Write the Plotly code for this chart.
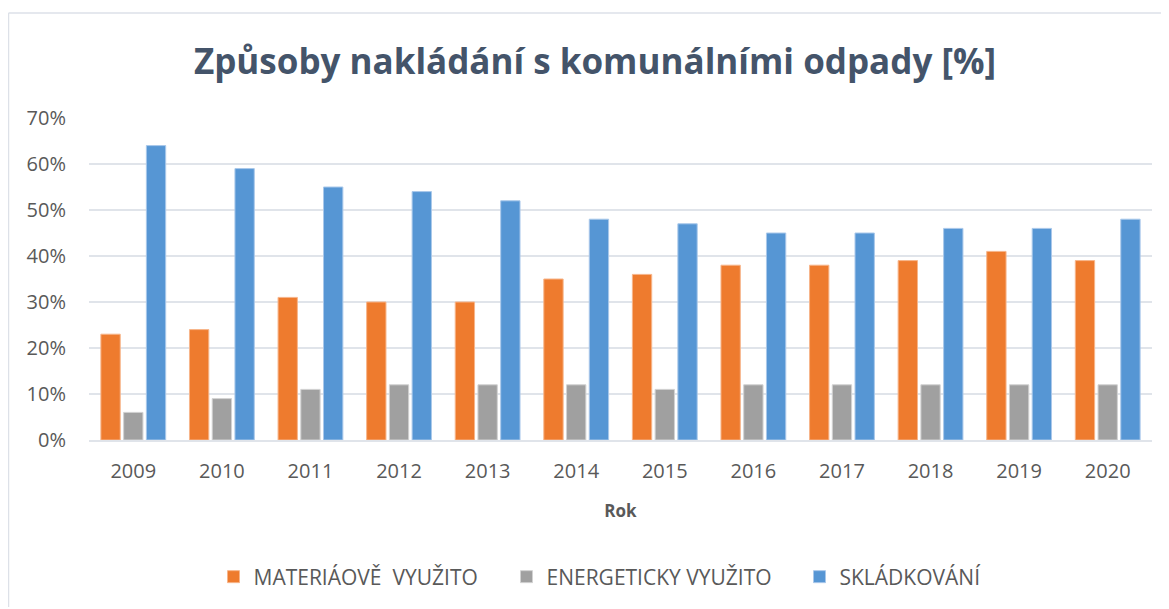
import plotly.graph_objects as go

years = ["2009", "2010", "2011", "2012", "2013", "2014", "2015", "2016", "2017", "2018", "2019", "2020"]
materialove = [23, 24, 31, 30, 30, 35, 36, 38, 38, 39, 41, 39]
energeticky = [6, 9, 11, 12, 12, 12, 11, 12, 12, 12, 12, 12]
skladkovani = [64, 59, 55, 54, 52, 48, 47, 45, 45, 46, 46, 48]
series_names = ["MATERIÁOVĚ&nbsp; VYUŽITO", "ENERGETICKY VYUŽITO", "SKLÁDKOVÁNÍ"]
colors = ["#EE7B2E", "#A0A0A0", "#5696D4"]
edge_colors = ["#F7B58A", "#D2D2D2", "#A9C8EA"]

# page body has an 8px margin, so the figure starts at (8, 8) in the window
W, H = 1161, 601
L, R, T, B = 81, 17, 110, 169
PH = H - T - B
PW = W - L - R

fig = go.Figure()
for name, vals, c, ec in zip(series_names, [materialove, energeticky, skladkovani], colors, edge_colors):
    fig.add_trace(go.Bar(
        x=years, y=[v / 100 for v in vals], name=name,
        marker=dict(color=c, line=dict(color=ec, width=1)),
    ))

font = "'Open Sans', Lato, sans-serif"
fig.update_layout(
    width=W, height=H,
    margin=dict(l=L, r=R, t=T, b=B, autoexpand=False),
    paper_bgcolor="white", plot_bgcolor="white",
    barmode="group", bargap=0.23, bargroupgap=0.15,
    title=dict(text="<b>Způsoby nakládání s komunálními odpady [%]</b>",
               x=587 / W, xanchor="center", y=1 - 54 / H, yanchor="middle",
               font=dict(family=font, size=35, color="#44546A")),
    font=dict(family=font, color="#595959"),
    xaxis=dict(showgrid=False, showline=True, linecolor="#E0E4EA", linewidth=2,
               ticks="", tickfont=dict(size=20, color="#595959"), ticklabelstandoff=12,
               tickangle=0,
               title=dict(text="<b>Rok</b>", font=dict(size=17, color="#595959"), standoff=22)),
    yaxis=dict(range=[0, 0.7], dtick=0.1, tickformat=".0%", showgrid=True,
               gridcolor="#E0E4EA", gridwidth=2, zeroline=False,
               tickfont=dict(size=20, color="#595959"), ticklabelstandoff=22),
    legend=dict(orientation="h", x=(645 - L) / PW, xanchor="center",
                y=-(569 - (H - B)) / PH, yanchor="middle",
                font=dict(size=21, color="#595959"), entrywidth=248, entrywidthmode="pixels",
                itemwidth=30, traceorder="normal"),
    shapes=[
        dict(type="line", xref="paper", yref="paper",
             x0=(0.5 - L) / PW, x1=(1157 - L) / PW,
             y0=1 + (T - 5) / PH, y1=1 + (T - 5) / PH,
             line=dict(color="#DDE1E8", width=1.5)),
        dict(type="line", xref="paper", yref="paper",
             x0=(0.5 - L) / PW, x1=(0.5 - L) / PW,
             y0=1 + (T - 5) / PH, y1=-(B - 2) / PH,
             line=dict(color="#DDE1E8", width=1.5)),
    ],
)

fig.write_html("out.html")
